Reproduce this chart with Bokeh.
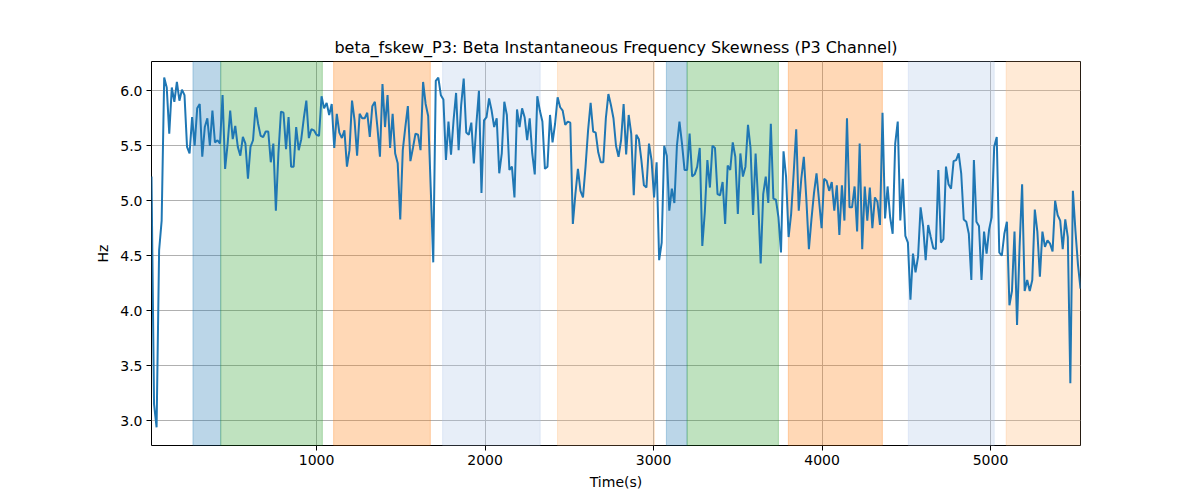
import numpy as np
from bokeh.plotting import figure
from bokeh.models import Range1d, BoxAnnotation, FixedTicker, NumeralTickFormatter
from bokeh.embed import file_html
from bokeh.resources import INLINE

# beta skewness samples (about every 15 s)
skew_a = [5.22, 3.15, 2.94, 4.55, 4.82, 6.12, 6.03, 5.61, 6.03, 5.90, 6.08, 5.91, 6.01, 5.96, 5.49, 5.43,
          5.76, 5.50, 5.84, 5.88, 5.40, 5.67, 5.75, 5.50, 5.82, 5.53, 5.55, 5.52, 5.96, 5.29, 5.52, 5.82,
          5.56, 5.68, 5.49, 5.41, 5.58, 5.52, 5.20, 5.49, 5.55, 5.85, 5.70, 5.59, 5.58, 5.63]
skew_b = [5.63, 5.35, 5.52, 4.91, 5.43, 5.81, 5.80, 5.47, 5.76, 5.31, 5.31, 5.67, 5.46, 5.56, 5.75, 5.91,
          5.57, 5.65, 5.64, 5.60, 5.59, 5.95, 5.84, 5.89, 5.78, 5.88, 5.48, 5.79, 5.62, 5.57, 5.64, 5.31,
          5.46, 5.91, 5.73, 5.41, 5.79, 5.75, 5.75, 5.80, 5.58, 5.86, 5.90, 5.67, 5.40, 6.06]
skew_c = [5.67, 5.96, 5.48, 5.79, 5.43, 5.34, 4.83, 5.46, 5.67, 5.86, 5.36, 5.48, 5.61, 5.60, 5.46, 6.08,
          5.88, 5.77, 5.12, 4.44, 6.09, 6.12, 5.96, 5.92, 5.37, 5.72, 5.42, 5.73, 5.98, 5.46, 5.87, 6.11,
          5.62, 5.60, 5.71, 5.34, 5.70, 6.00, 5.07, 5.73, 5.76, 5.93, 5.82, 5.67, 5.75, 5.25]
skew_d = [5.43, 5.90, 5.78, 5.28, 5.31, 5.03, 5.83, 5.67, 5.84, 5.76, 5.55, 5.75, 5.43, 5.24, 5.95, 5.82,
          5.72, 5.29, 5.31, 5.78, 5.53, 5.70, 5.94, 5.85, 5.82, 5.69, 5.72, 5.71, 4.79, 5.06, 5.29, 5.09,
          5.03, 5.31, 5.64, 5.89, 5.63, 5.62, 5.44, 5.35, 5.35, 5.75, 5.97, 5.87, 5.75, 5.50]
skew_e = [5.40, 5.55, 5.88, 5.42, 5.78, 5.61, 5.05, 5.60, 5.56, 5.37, 5.14, 5.12, 5.52, 5.37, 5.03, 5.35,
          4.46, 4.62, 5.50, 5.41, 4.91, 5.11, 4.98, 5.50, 5.72, 5.52, 5.28, 5.28, 5.61, 5.22, 5.24, 5.31,
          5.48, 4.59, 4.90, 5.37, 5.12, 5.50, 5.48, 5.06, 5.05, 5.17, 4.79, 5.32, 5.28, 5.53]
skew_f = [5.40, 4.88, 5.43, 5.22, 5.31, 5.69, 5.48, 4.87, 5.43, 5.00, 4.43, 5.06, 5.22, 4.98, 5.70, 5.02,
          5.01, 4.85, 4.53, 5.45, 5.22, 4.67, 4.88, 5.25, 5.65, 4.91, 5.20, 5.40, 5.01, 4.56, 4.83, 5.07,
          5.25, 5.00, 4.75, 5.20, 5.18, 5.09, 5.17, 4.91, 5.14, 4.69, 5.14, 4.82, 5.75, 4.94, 4.94]
skew_g = [5.13, 4.72, 5.52, 4.56, 5.13, 4.82, 5.12, 4.75, 5.03, 4.99, 4.78, 5.80, 4.84, 5.13, 4.85, 4.70,
          5.52, 5.72, 4.82, 5.20, 4.68, 4.62, 4.10, 4.52, 4.35, 4.49, 4.94, 4.77, 4.46, 4.78, 4.67, 4.57,
          4.56, 5.28, 4.62, 4.65, 5.31, 5.15, 5.11, 5.36, 5.37, 5.43, 5.25, 4.83, 4.81, 4.70]
skew_h = [4.28, 5.37, 4.81, 4.77, 4.28, 4.72, 4.52, 4.74, 4.85, 5.49, 5.58, 4.53, 4.50, 4.70, 4.81, 4.05,
          4.18, 4.72, 3.87, 4.58, 5.15, 4.18, 4.28, 4.18, 4.28, 4.92, 4.72, 4.31, 4.72, 4.58, 4.64, 4.61,
          4.54, 5.00, 4.87, 4.82, 4.56, 4.83, 4.67, 3.34, 5.09, 4.73, 4.42, 4.20]

skew = skew_a + skew_b + skew_c + skew_d + skew_e + skew_f + skew_g + skew_h
t_start, t_end = 20, 5534
times = np.linspace(t_start, t_end, len(skew))

# shaded stage periods (start, end, colour)
span_start = [266, 431, 1101, 1748, 2430, 3076, 3199, 3800, 4512, 5093]
span_end = [431, 1034, 1675, 2327, 3005, 3199, 3741, 4358, 5022, 5600]
span_color = ["#1f77b4", "#2ca02c", "#ff7f0e", "#aec7e8", "#ffbb78",
              "#1f77b4", "#2ca02c", "#ff7f0e", "#aec7e8", "#ffbb78"]

p = figure(width=1192, height=492, output_backend="svg", toolbar_location=None,
           title="beta_fskew_P3: Beta Instantaneous Frequency Skewness (P3 Channel)",
           x_range=Range1d(t_start, t_end), y_range=Range1d(2.775, 6.266),
           min_border_left=151, min_border_right=112, min_border_top=61, min_border_bottom=47)

for s, e, c in zip(span_start, span_end, span_color):
    p.add_layout(BoxAnnotation(left=s, right=e, fill_color=c, fill_alpha=0.3,
                               line_color=c, line_alpha=0.3, line_width=1, level="underlay"))

p.line(times, skew, line_color="#1f77b4", line_width=2)

font = "DejaVu Sans"
p.title.align = "center"
p.title.text_font = font
p.title.text_font_size = "16px"
p.title.text_font_style = "normal"
p.title.text_color = "black"

p.xaxis.axis_label = "Time(s)"
p.yaxis.axis_label = "Hz"
p.xaxis.ticker = FixedTicker(ticks=[1000, 2000, 3000, 4000, 5000])
p.yaxis.ticker = FixedTicker(ticks=[3.0, 3.5, 4.0, 4.5, 5.0, 5.5, 6.0])
p.yaxis.formatter = NumeralTickFormatter(format="0.0")
for ax in (p.xaxis, p.yaxis):
    ax.axis_label_text_font = font
    ax.axis_label_text_font_size = "14px"
    ax.axis_label_text_font_style = "normal"
    ax.axis_label_text_color = "black"
    ax.major_label_text_font = font
    ax.major_label_text_font_size = "14px"
    ax.major_label_text_color = "black"
    ax.major_tick_out = 5
    ax.major_tick_in = 0
    ax.minor_tick_out = 0
    ax.minor_tick_in = 0
    ax.major_label_standoff = 4
    ax.axis_label_standoff = 6
    ax.axis_line_color = None
    ax.major_tick_line_color = "black"

p.grid.grid_line_color = "#b0b0b0"
p.grid.grid_line_width = 1
p.outline_line_color = "black"
p.outline_line_width = 1

open("out.html", "w").write(file_html(p, INLINE))
